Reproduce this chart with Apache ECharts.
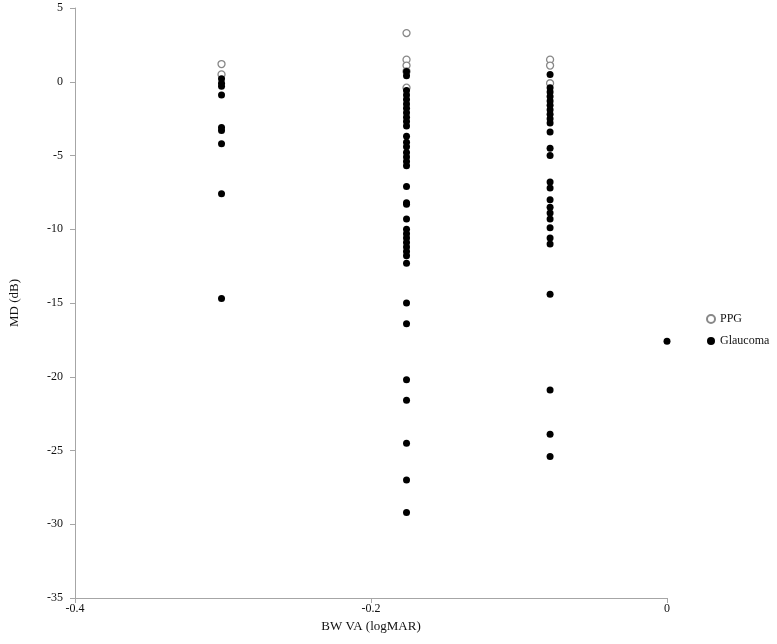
<!DOCTYPE html>
<html><head><meta charset="utf-8">
<script src="https://cdn.jsdelivr.net/npm/echarts@6/dist/echarts.min.js"></script>
<style>html,body{margin:0;padding:0;background:#fff}#c{width:777px;height:644px}</style>
</head><body><div id="c"></div>
<script>
const xTicks = [-0.4, -0.2, 0];
const yTicks = [-35, -30, -25, -20, -15, -10, -5, 0, 5];
// x positions (logMAR)
const xA = -0.301, xB = -0.176, xC = -0.079, xD = 0;
const ppgA = [1.2, 0.5];
const glaA = [0.2, -0.1, -0.3, -0.9, -3.1, -3.3, -4.2, -7.6, -14.7];
const ppgB = [3.3, 1.5, 1.1, 0.7, -0.4];
const glaB = [0.7, 0.4, -0.6, -0.9, -1.2, -1.5, -1.8, -2.1, -2.4, -2.7, -3.0, -3.7, -4.1, -4.4, -4.8, -5.1, -5.4, -5.7,
  -7.1, -8.2, -8.3, -9.3, -10.0, -10.3, -10.6, -10.9, -11.2, -11.5, -11.8, -12.3, -15.0, -16.4, -20.2, -21.6, -24.5, -27.0, -29.2];
const ppgC = [1.5, 1.1, -0.1];
const glaC = [0.5, -0.4, -0.7, -1.0, -1.3, -1.6, -1.9, -2.2, -2.5, -2.8, -3.4, -4.5, -5.0, -6.8, -7.2, -8.0, -8.5, -8.9, -9.3, -9.9, -10.6, -11.0, -14.4, -20.9, -23.9, -25.4];
const glaD = [-17.6];

function pts(x, arr){ return arr.map(v => [x, v]); }
const ppg = [].concat(pts(xA, ppgA), pts(xB, ppgB), pts(xC, ppgC));
const gla = [].concat(pts(xA, glaA), pts(xB, glaB), pts(xC, glaC), pts(xD, glaD));

const font = 'Liberation Serif';
const chart = echarts.init(document.getElementById('c'), null, {renderer:'canvas'});
chart.setOption({
  animation: false,
  backgroundColor: '#fff',
  textStyle: {fontFamily: font},
  grid: {left: 73, right: 110, top: 8, bottom: 46, containLabel: false},
  legend: {
    orient: 'vertical', left: 701, top: 308, itemWidth: 8, itemHeight: 8, itemGap: 10,
    textStyle: {fontFamily: font, fontSize: 12, color: '#111'},
    data: ['PPG', 'Glaucoma']
  },
  xAxis: {
    type: 'value', min: xTicks[0], max: xTicks[xTicks.length-1], interval: 0.2,
    name: 'BW VA (logMAR)', nameLocation: 'middle', nameGap: 19,
    nameTextStyle: {fontFamily: font, fontSize: 13, color: '#111'},
    axisLine: {onZero: false, lineStyle: {color: '#a6a6a6', width: 1}},
    axisTick: {show: true, length: 5, lineStyle: {color: '#a6a6a6'}},
    axisLabel: {fontFamily: font, fontSize: 12, color: '#111', margin: 5,
      formatter: v => (Math.abs(v) < 1e-9 ? '0' : String(+v.toFixed(1)))},
    splitLine: {show: false}
  },
  yAxis: {
    type: 'value', min: yTicks[0], max: yTicks[yTicks.length-1], interval: 5,
    name: 'MD (dB)', nameLocation: 'middle', nameGap: 54, nameRotate: 90,
    nameTextStyle: {fontFamily: font, fontSize: 13, color: '#111'},
    axisLine: {show: true, onZero: false, lineStyle: {color: '#a6a6a6', width: 1}},
    axisTick: {show: true, length: 5, lineStyle: {color: '#a6a6a6'}},
    axisLabel: {fontFamily: font, fontSize: 12, color: '#111', margin: 12},
    splitLine: {show: false}
  },
  series: [
    {name: 'PPG', type: 'scatter', data: ppg, symbol: 'circle', symbolSize: 7,
     itemStyle: {color: '#fff', borderColor: '#888', borderWidth: 1.3, opacity: 1}},
    {name: 'Glaucoma', type: 'scatter', data: gla, symbol: 'circle', symbolSize: 7,
     itemStyle: {color: '#000', opacity: 1}}
  ]
});
</script></body></html>
